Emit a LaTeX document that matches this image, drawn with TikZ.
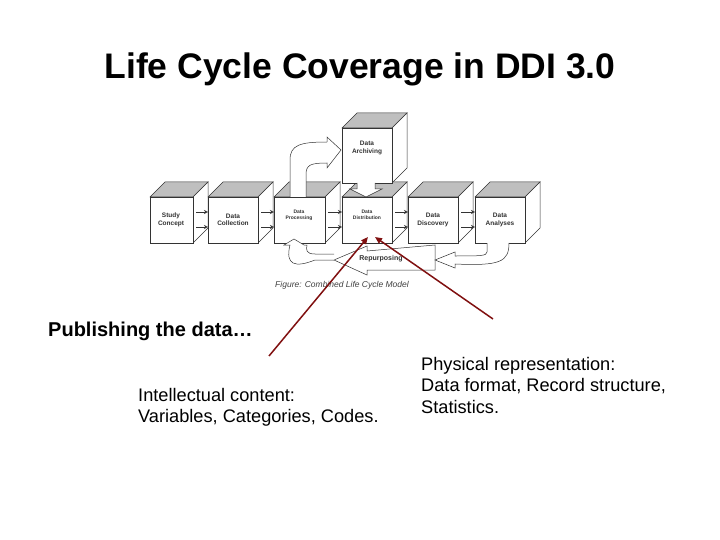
\documentclass[tikz,border=0pt]{standalone}
\usepackage{fontspec}
\setmainfont{Liberation Sans}
\usetikzlibrary{arrows.meta}
\definecolor{dred}{RGB}{128,16,16}
\tikzset{
 face/.style={draw=black!80,line width=0.5pt,fill=white},
 topf/.style={draw=black!80,line width=0.5pt,fill=black!25},
 sidef/.style={draw=black!80,line width=0.5pt,fill=white},
 ctext/.style={font=\fontsize{6.5}{7.5}\selectfont\bfseries,align=center,text=black!80},
 flow/.style={-{Stealth[length=4pt,width=4pt,open]},line width=0.5pt,black!80},
 big/.style={draw=black!80,line width=0.5pt,fill=white},
 ptr/.style={dred,line width=1.5pt,-{Triangle[length=7pt,width=6pt]}},
 body/.style={font=\fontsize{18.2}{21.5}\selectfont,align=left,anchor=north west,inner sep=0pt}
}
\newcommand{\mycube}[4]{%
 \fill[white] (#1,#2) rectangle ++(#3,#4);
 \draw[topf] (#1,#2) -- ++(15,-15) -- ++(#3,0) -- ++(-15,15) -- cycle;
 \draw[sidef] (#1+#3,#2) -- ++(15,-15) -- ++(0,#4) -- ++(-15,15) -- cycle;
 \draw[face] (#1,#2) rectangle ++(#3,#4);
}
\begin{document}
\begin{tikzpicture}[x=1pt,y=-1pt]
\useasboundingbox (0,0) rectangle (720,540);
\node (title) at (360,69) {\fontsize{35.5}{40}\selectfont\bfseries Life Cycle Coverage in DDI 3.0};
% cubes
\mycube{150}{197}{43}{46}
\mycube{208}{197}{50}{46}
\mycube{274}{197}{51}{46}
\mycube{342}{197}{50}{46}
\mycube{408}{197}{50}{46}
\mycube{475}{197}{50}{46}
\mycube{342}{128}{50}{55}
\node[ctext] (sc) at (171,220) {Study\\Concept};
\node[ctext] (dc) at (233,220) {Data\\Collection};
\node[ctext,font=\fontsize{5}{6}\selectfont\bfseries] (dp) at (299,215) {Data\\Processing};
\node[ctext,font=\fontsize{5}{6}\selectfont\bfseries] (dd) at (367,215) {Data\\Distribution};
\node[ctext] (ds) at (433,220) {Data\\Discovery};
\node[ctext] (da) at (500,220) {Data\\Analyses};
\node[ctext] (ar) at (367,148) {Data\\Archiving};
% horizontal arrows
\foreach \a/\b in {193/208,258/274,325/342,392/408,458/475}{
 \draw[flow] (\a+3,212) -- (\b,212);
 \draw[flow] (\a+3,227) -- (\b,227);
}
% archiving -> distribution
\draw[big] (357,183) -- (357,189) -- (350,189) -- (366,197) -- (382,189) -- (375,189) -- (375,183);
% processing -> archiving curved
\draw[big] (290,197) -- (290,160) .. controls (290,145) and (300,142) .. (327,142) -- (327,137) -- (341,150) -- (327,168) -- (327,163) .. controls (310,163) and (306,165) .. (306,175) -- (306,197);
% repurposing
\draw[big] (435,245) -- (435,270) -- (367,270) -- (367,275) -- (334,260) -- (367,246) -- (367,251) -- cycle;
\node[font=\fontsize{7}{8}\selectfont\bfseries,text=black!80] (rp) at (381,259) {Repurposing};
\draw[big] (334,260) -- (315,260) .. controls (295,268) and (285,265) .. (290,245) -- (284,245) -- (294,239) -- (304,245) -- (307,245) .. controls (306,250) and (306,254) .. (315,254) -- (334,254);
\draw[big] (487,243) -- (487,252) .. controls (487,256) and (480,256) .. (455,256) -- (455,252) -- (435,260) -- (455,268) -- (455,264) .. controls (500,266) and (509,262) .. (509,243);
\node[font=\fontsize{8.5}{10}\selectfont\itshape,text=black!75] (cap) at (342,285) {Figure: Combined Life Cycle Model};
% texts
\node[body,font=\fontsize{20}{24}\selectfont\bfseries] (pub) at (48,322) {Publishing the data…};
\node[body] (ic) at (138,388) {Intellectual content:\\Variables, Categories, Codes.};
\node[body] (pr) at (421,357) {Physical representation:\\Data format, Record structure,\\Statistics.};
\coordinate (t1) at (368,237);
\coordinate (t2) at (375,237);
\draw[ptr] (269,356) -- (t1);
\draw[ptr] (493,319) -- (t2);
\end{tikzpicture}
\end{document}
